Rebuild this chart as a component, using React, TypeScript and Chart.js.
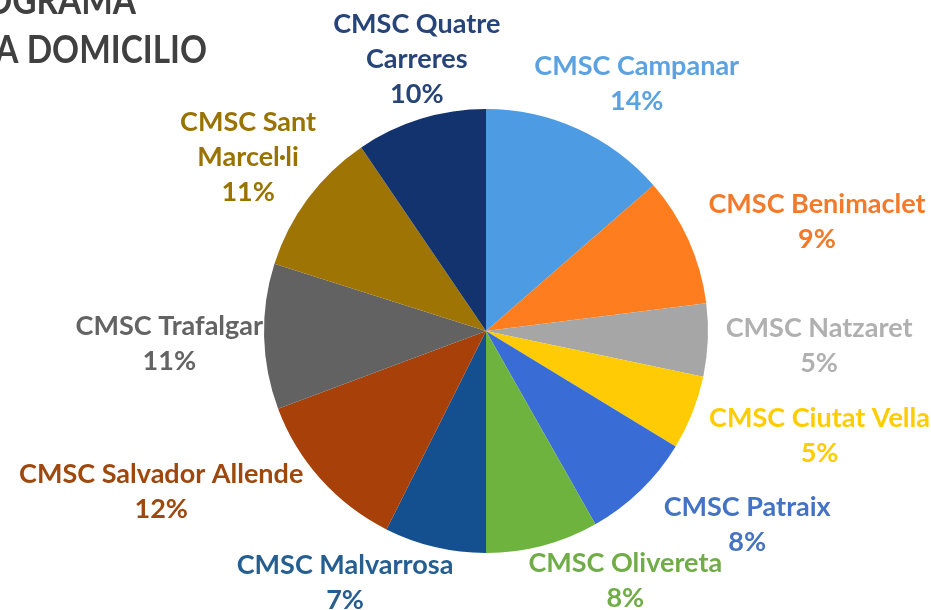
import React, { useEffect, useRef } from "react";
import { Chart, registerables } from "chart.js";

Chart.register(...registerables);

// ---- data ----
const categories: string[][] = [
  ["CMSC Campanar"],
  ["CMSC Benimaclet"],
  ["CMSC Natzaret"],
  ["CMSC Ciutat Vella"],
  ["CMSC Patraix"],
  ["CMSC Olivereta"],
  ["CMSC Malvarrosa"],
  ["CMSC Salvador Allende"],
  ["CMSC Trafalgar"],
  ["CMSC Sant", "Marcel·li"],
  ["CMSC Quatre", "Carreres"],
];
const shares: number[] = [13.6, 9.4, 5.3, 5.4, 8.1, 8.2, 7.4, 11.9, 10.6, 10.6, 9.5];
const titleLines: string[] = ["PROGRAMA", "A DOMICILIO"];

// ---- styles ----
const sliceColors = [
  "#4c9be3", "#fd7d1f", "#a6a6a6", "#ffcb05", "#3a6cd6", "#6db33d",
  "#14508f", "#a8400a", "#626262", "#9e7405", "#13336e",
];
const labelColors = [
  "#5aa2e2", "#f27a2a", "#b0b0b0", "#ffcc00", "#4472c4", "#70ad47",
  "#255e91", "#9e480e", "#636363", "#997300", "#264478",
];
// label placement adjustments (px) relative to the computed outside-end anchor
const labelNudges: [number, number][] = [
  [13, -6], [22, -1], [10, 4], [17, 7], [43, 3], [56, -6],
  [-63, -6], [-48, -16], [7, 6], [1, -5], [23, -2],
];

const FONT = "Lato, 'Open Sans', sans-serif";

const labelPlugin = {
  id: "outsideLabels",
  afterDatasetsDraw(chart: any) {
    const ctx = chart.ctx as CanvasRenderingContext2D;
    const meta = chart.getDatasetMeta(0);
    const data = chart.data.datasets[0].data as number[];
    const total = data.reduce((a, b) => a + b, 0);
    const lineH = 35;
    const gap = 8;
    ctx.save();
    ctx.font = `bold 27px ${FONT}`;
    ctx.textAlign = "center";
    ctx.textBaseline = "middle";
    meta.data.forEach((arc: any, i: number) => {
      const mid = (arc.startAngle + arc.endAngle) / 2;
      const ux = Math.cos(mid);
      const uy = Math.sin(mid);
      const lines = [
        ...(chart.data.labels[i] as string[]),
        `${Math.round((data[i] / total) * 100)}%`,
      ];
      const w = Math.max(...lines.map((l) => ctx.measureText(l).width));
      const h = lines.length * lineH;
      const px = arc.x + (arc.outerRadius + gap) * ux;
      const py = arc.y + (arc.outerRadius + gap) * uy;
      const cx = px + (ux * w) / 2 + labelNudges[i][0];
      const cy = py + (uy * h) / 2 + labelNudges[i][1];
      ctx.fillStyle = labelColors[i];
      lines.forEach((l, k) => {
        ctx.fillText(l, cx, cy - h / 2 + lineH / 2 + k * lineH);
      });
    });
    ctx.restore();
  },
};

const titlePlugin = {
  id: "cornerTitle",
  afterDraw(chart: any) {
    const ctx = chart.ctx as CanvasRenderingContext2D;
    ctx.save();
    ctx.font = `bold 38px ${FONT}`;
    ctx.fillStyle = "#404040";
    ctx.textAlign = "right";
    ctx.textBaseline = "alphabetic";
    ctx.scale(0.88, 1);
    ctx.fillText(titleLines[0], 136 / 0.88, 14);
    ctx.fillText(titleLines[1], 207 / 0.88, 63);
    ctx.restore();
  },
};

export default function App() {
  const ref = useRef<HTMLCanvasElement | null>(null);
  useEffect(() => {
    document.body.style.margin = "0";
    const chart = new Chart(ref.current as HTMLCanvasElement, {
      type: "pie",
      data: {
        labels: categories as any,
        datasets: [
          {
            data: shares,
            backgroundColor: sliceColors,
            borderWidth: 0,
          },
        ],
      },
      options: {
        animation: false,
        responsive: false,
        layout: { padding: { top: 109, bottom: 57, left: 264, right: 223 } },
        plugins: {
          legend: { display: false },
          tooltip: { enabled: false },
          title: { display: false },
        },
      },
      plugins: [labelPlugin, titlePlugin],
    });
    return () => chart.destroy();
  }, []);
  return (
    <div style={{ position: "absolute", left: 0, top: 0, width: 931, height: 610, background: "#fff" }}>
      <canvas ref={ref} width={931} height={610} />
    </div>
  );
}
